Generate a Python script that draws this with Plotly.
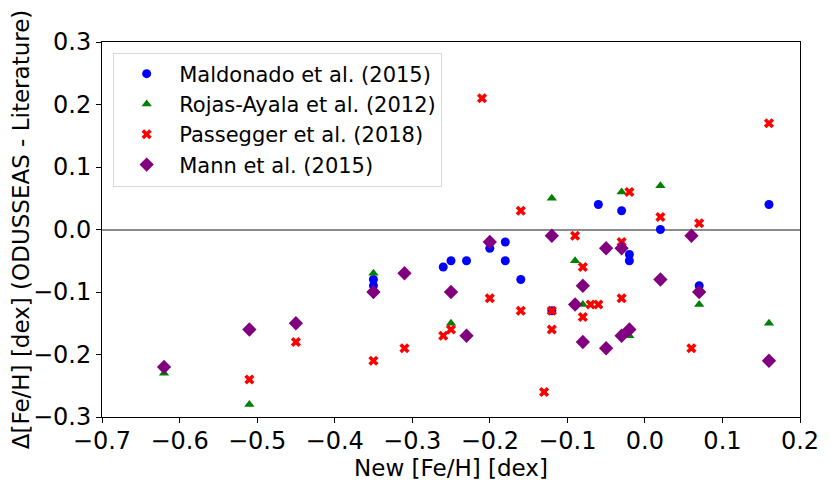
import plotly.graph_objects as go

# Maldonado et al. (2015)
mald_x = [-0.35, -0.35, -0.26, -0.25, -0.23, -0.20, -0.18, -0.18, -0.16, -0.12,
          -0.06, -0.03, -0.02, -0.02, 0.02, 0.07, 0.16]
mald_y = [-0.08, -0.09, -0.06, -0.05, -0.05, -0.03, -0.02, -0.05, -0.08, -0.13,
          0.04, 0.03, -0.04, -0.05, 0.00, -0.09, 0.04]

# Rojas-Ayala et al. (2012)
rojas_x = [-0.62, -0.51, -0.35, -0.25, -0.12, -0.09, -0.08, -0.03, -0.02, 0.02, 0.07, 0.16]
rojas_y = [-0.23, -0.28, -0.07, -0.15, 0.05, -0.05, -0.12, 0.06, -0.17, 0.07, -0.12, -0.15]

# Passegger et al. (2018)
pass_x = [-0.51, -0.45, -0.35, -0.31, -0.26, -0.25, -0.21, -0.20, -0.16, -0.16, -0.13,
          -0.12, -0.12, -0.09, -0.08, -0.08, -0.07, -0.06, -0.03, -0.03, -0.02,
          0.02, 0.06, 0.07, 0.16]
pass_y = [-0.24, -0.18, -0.21, -0.19, -0.17, -0.16, 0.21, -0.11, 0.03, -0.13, -0.26,
          -0.13, -0.16, -0.01, -0.06, -0.14, -0.12, -0.12, -0.02, -0.11, 0.06,
          0.02, -0.19, 0.01, 0.17]

# Mann et al. (2015)
mann_x = [-0.62, -0.51, -0.45, -0.35, -0.31, -0.25, -0.23, -0.20, -0.12, -0.09, -0.08,
          -0.08, -0.05, -0.05, -0.03, -0.03, -0.02, 0.02, 0.06, 0.07, 0.16]
mann_y = [-0.22, -0.16, -0.15, -0.10, -0.07, -0.10, -0.17, -0.02, -0.01, -0.12, -0.09,
          -0.18, -0.03, -0.19, -0.03, -0.17, -0.16, -0.08, -0.01, -0.10, -0.21]

font = "DejaVu Sans"

trace1 = go.Scatter(x=mald_x, y=mald_y, mode="markers", name="Maldonado et al. (2015)",
                    marker=dict(color="blue", symbol="circle", size=9))
trace2 = go.Scatter(x=rojas_x, y=rojas_y, mode="markers", name="Rojas-Ayala et al. (2012)",
                    marker=dict(color="green", symbol="triangle-up", size=9))
trace3 = go.Scatter(x=pass_x, y=pass_y, mode="markers", name="Passegger et al. (2018)",
                    marker=dict(color="red", symbol="x", size=9, line=dict(width=0)))
trace4 = go.Scatter(x=mann_x, y=mann_y, mode="markers", name="Mann et al. (2015)",
                    marker=dict(color="purple", symbol="diamond", size=11))

axis_common = dict(showgrid=False, showline=True, linecolor="black", linewidth=1,
                   mirror=True, ticks="outside", ticklen=5, tickwidth=1, tickcolor="black",
                   automargin=False,
                   tickfont=dict(family=font, size=24, color="black"))

# page body has an 8px margin, so the figure is a bit smaller than the window
layout = go.Layout(
    width=822, height=476,
    margin=dict(l=94, r=30, t=34, b=67),
    paper_bgcolor="white", plot_bgcolor="white",
    font=dict(family=font, color="black"),
    xaxis=dict(range=[-0.7, 0.2], dtick=0.1, tick0=-0.7, tickformat=".1f",
               ticklabelstandoff=-3,
               title=dict(text="New [Fe/H] [dex]", font=dict(family=font, size=23), standoff=0),
               zeroline=False, **axis_common),
    yaxis=dict(range=[-0.3, 0.3], dtick=0.1, tick0=-0.3, tickformat=".1f",
               title=dict(text="Δ[Fe/H] [dex] (ODUSSEAS - Literature)",
                          font=dict(family=font, size=23), standoff=4),
               zeroline=True, zerolinecolor="#8c8c8c", zerolinewidth=1.5, **axis_common),
    legend=dict(x=0.016, y=0.972, xanchor="left", yanchor="top",
                bgcolor="white", bordercolor="#d9d9d9", borderwidth=1,
                itemwidth=55,
                font=dict(family=font, size=21, color="black"), tracegroupgap=0),
    showlegend=True,
)

fig = go.Figure(data=[trace1, trace2, trace3, trace4], layout=layout)
fig.write_html("out.html")
